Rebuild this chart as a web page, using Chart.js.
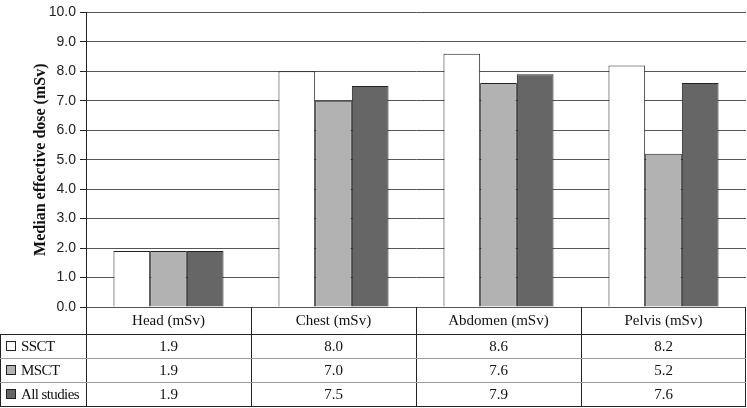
<!DOCTYPE html>
<html>
<head>
<meta charset="utf-8">
<script src="https://cdn.jsdelivr.net/npm/chart.js@4/dist/chart.umd.min.js"></script>
<style>
  html, body { margin: 0; padding: 0; background: #fff; }
  #wrap { position: relative; width: 747px; height: 408px; overflow: hidden; }
  canvas { position: absolute; left: 0; top: 0; }
  .ln { position: absolute; }
  .cell { position: absolute; font-family: "Liberation Serif", "Times New Roman", serif; font-size: 15px; color: #111;
          display: flex; align-items: center; justify-content: center; white-space: nowrap; }
  .lab { justify-content: flex-start; padding-left: 5px; box-sizing: border-box; font-size: 15px; letter-spacing: -0.6px; }
  .key { display: inline-block; width: 8px; height: 8px; border: 1px solid #222; margin-right: 5px; }
</style>
</head>
<body>
<div id="wrap"><canvas id="c" width="747" height="408"></canvas></div>
<script>
const categories = ["Head (mSv)", "Chest (mSv)", "Abdomen (mSv)", "Pelvis (mSv)"];
const seriesNames = ["SSCT", "MSCT", "All studies"];
const ssct = [1.9, 8.0, 8.6, 8.2];
const msct = [1.9, 7.0, 7.6, 5.2];
const allStudies = [1.9, 7.5, 7.9, 7.6];
const seriesColors = ["#ffffff", "#b2b2b2", "#666666"];
const yTicks = [0, 1, 2, 3, 4, 5, 6, 7, 8, 9, 10];

const seriesValues = [ssct, msct, allStudies];

const chart = new Chart(document.getElementById("c"), {
  type: "bar",
  data: {
    labels: categories,
    datasets: seriesNames.map((n, i) => ({
      label: n,
      data: seriesValues[i],
      backgroundColor: seriesColors[i],
      borderColor: "#222",
      borderWidth: 1,
      categoryPercentage: 0.667,
      barPercentage: 1.0
    }))
  },
  options: {
    responsive: false,
    animation: false,
    layout: { padding: { left: 0, top: 7, right: 1, bottom: 101 } },
    plugins: { legend: { display: false }, tooltip: { enabled: false } },
    scales: {
      x: { display: false },
      y: {
        min: 0, max: 10,
        afterBuildTicks: s => { s.ticks = yTicks.map(v => ({ value: v })); },
        afterFit: s => { s.width = 86; },
        grid: { color: "#555", lineWidth: 1, tickLength: 6, drawTicks: true, tickColor: "#222" },
        border: { color: "#222", width: 1 },
        ticks: {
          padding: 4,
          color: "#222",
          font: { family: "'Liberation Sans', Arial, sans-serif", size: 14 },
          callback: v => Number(v).toFixed(1)
        },
        title: {
          display: true,
          text: "Median effective dose (mSv)",
          color: "#111",
          font: { family: "'Liberation Serif', 'Times New Roman', serif", size: 16, weight: "bold" },
          padding: { top: 31, bottom: 0 }
        }
      }
    }
  }
});

// Data table below the plot, aligned to the chart's category columns
(function buildTable() {
  const wrap = document.getElementById("wrap");
  const ca = chart.chartArea;
  const n = categories.length;
  const colW = (ca.right - ca.left) / n;
  const top = Math.round(ca.bottom);
  const headerH = 27, rowH = 24;
  const bottom = top + headerH + rowH * seriesNames.length;
  const left = Math.round(ca.left);
  const right = Math.round(ca.right);

  function line(x, y, w, h, color) {
    const d = document.createElement("div");
    d.className = "ln";
    d.style.left = x + "px"; d.style.top = y + "px";
    d.style.width = w + "px"; d.style.height = h + "px";
    d.style.background = color;
    wrap.appendChild(d);
  }
  function cell(x, y, w, h, html, cls) {
    const d = document.createElement("div");
    d.className = "cell" + (cls ? " " + cls : "");
    d.style.left = x + "px"; d.style.top = y + "px";
    d.style.width = w + "px"; d.style.height = h + "px";
    d.innerHTML = html;
    wrap.appendChild(d);
  }

  for (let i = 0; i <= n; i++) {
    const x = Math.round(ca.left + i * colW) - (i === n ? 1 : 0);
    line(x, top, 1, bottom - top + 1, "#222");
  }
  line(0, top + headerH, 1, bottom - top - headerH + 1, "#222");
  line(0, top + headerH, right, 1, "#222");
  for (let r = 1; r < seriesNames.length; r++) {
    line(0, top + headerH + r * rowH, right, 1, "#9a9a9a");
  }
  line(0, bottom, right, 1, "#222");

  categories.forEach((c, i) => cell(Math.round(ca.left + i * colW), top, colW, headerH, c));
  seriesNames.forEach((s, r) => {
    const y = top + headerH + r * rowH;
    cell(1, y, left - 1, rowH,
      '<span class="key" style="background:' + seriesColors[r] + '"></span>' + s, "lab");
    seriesValues[r].forEach((v, i) =>
      cell(Math.round(ca.left + i * colW), y, colW, rowH, v.toFixed(1)));
  });
})();
</script>
</body>
</html>
